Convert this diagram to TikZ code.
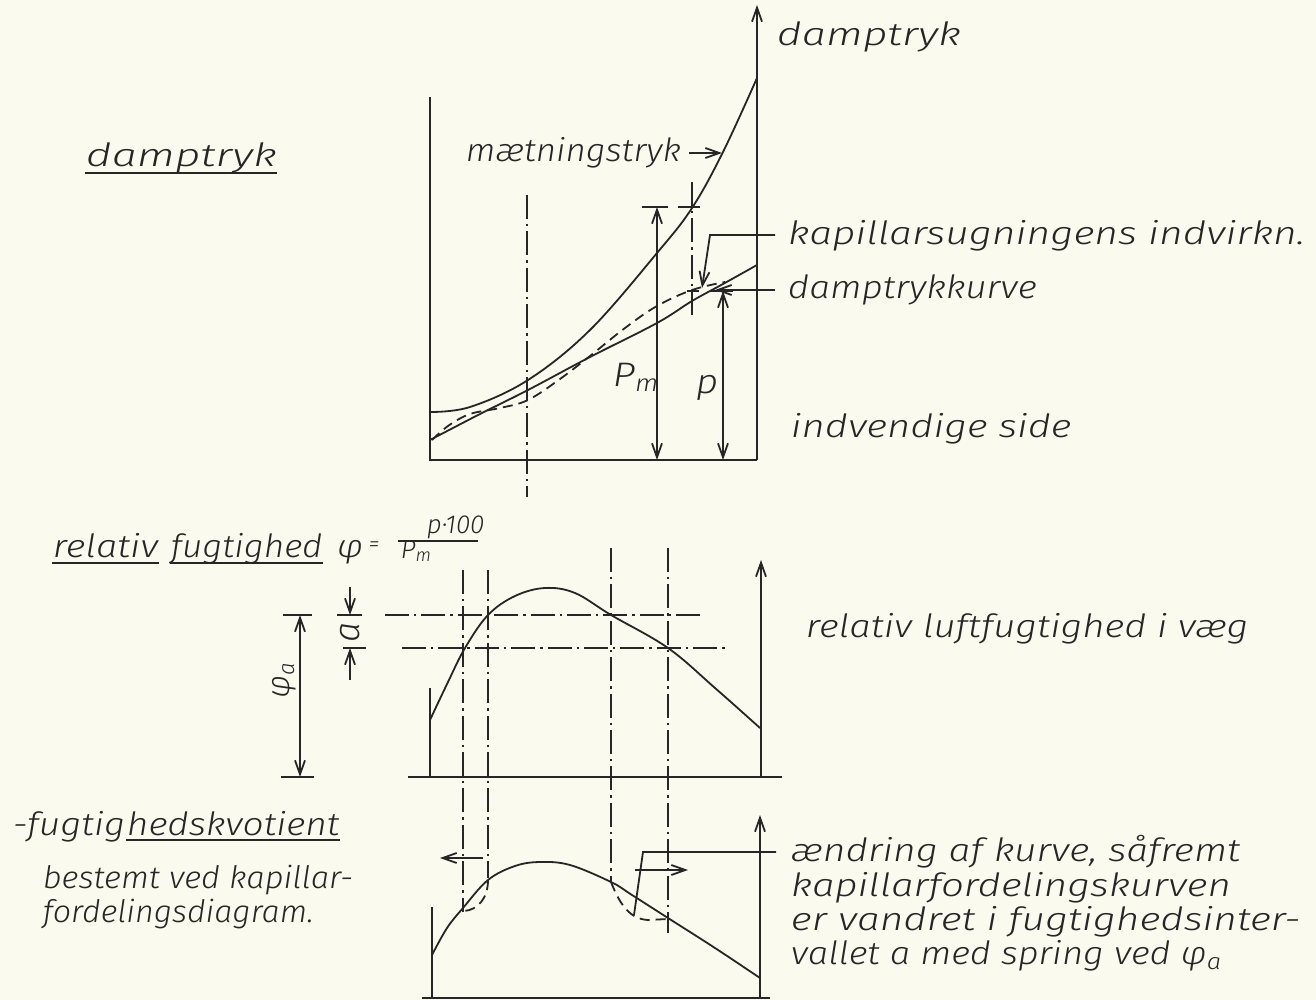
\documentclass[tikz,border=0pt]{standalone}
\usepackage{fontspec}
\IfFontExistsTF{Fira Sans Light Italic}
  {\setmainfont{Fira Sans Light Italic}}
  {\setmainfont{Liberation Sans Italic}}
\usetikzlibrary{arrows.meta}
\definecolor{paper}{RGB}{251,250,239}
\definecolor{ink}{RGB}{38,38,38}
\newcommand\hs[2]{\scalebox{#1}[1]{#2}}
\tikzset{
  txt/.style={font=\fontsize{#1}{#1}\selectfont, inner sep=0pt, anchor=base west},
  txt/.default=16,
  dd/.style={dash pattern=on 12pt off 2.5pt on 1.2pt off 2.5pt},
  dsh/.style={dash pattern=on 5pt off 3pt},
  arr/.style={-{Straight Barb[length=7pt,width=5pt]}},
  darr/.style={{Straight Barb[length=7pt,width=5pt]}-{Straight Barb[length=7pt,width=5pt]}},
  curve/.style={smooth, tension=0.6}
}
\begin{document}
\begin{tikzpicture}[x=0.5pt,y=-0.5pt,line width=0.9pt,color=ink]
\fill[paper] (0,0) rectangle (1316,1000);
\useasboundingbox (0,0) rectangle (1316,1000);

% ---------------- top diagram ----------------
\coordinate (TL) at (430,97);
\coordinate (BL) at (430,460);
\coordinate (BR) at (757,460);
\coordinate (AT) at (757,5);
\draw (TL) -- (BL) -- (BR);
\draw[arr] (BR) -- (AT);
\node[txt] (dt1) at (776,46) {\hs{1.35}{damptryk}};

\coordinate (c1a) at (527,195); \coordinate (c1b) at (527,497);
\draw[dd] (c1a) -- (c1b);

\draw plot[curve] coordinates {(430,412) (470,407) (528,380) (590,330) (657,253) (692,208) (723,152) (757,78)};
\draw plot[curve] coordinates {(430,440) (480,414) (528,390) (590,357) (657,323) (692,301) (723,284) (757,265)};
\draw[dsh] plot[curve] coordinates {(432,440) (448,426) (470,414) (500,408) (528,400) (560,379) (590,356) (625,328) (657,306) (692,290) (725,282)};

\coordinate (pmT) at (657,207); \coordinate (pmB) at (657,460);
\draw[darr] (pmT) -- (pmB);
\draw (642,207) -- (668,207) (678,207) -- (700,207);
\coordinate (pT) at (723,291); \coordinate (pB) at (723,460);
\draw[darr] (pT) -- (pB);
\draw (687,291) -- (699,291) (710,291) -- (733,291);
\coordinate (c2a) at (692,182); \coordinate (c2b) at (692,317);
\draw[dd] (c2a) -- (c2b);
\node[txt=17] (pm) at (612,386) {\hs{1.15}{P\textsubscript{m}}};
\node[txt=17] (p) at (695,393) {\hs{1.15}{p}};

\node[txt] (mt) at (465,162) {\hs{1.09}{mætningstryk}};
\coordinate (m0) at (689,153);
\coordinate (mtp) at (722,153);
\draw[arr] (m0) -- (mtp);

\node[txt] (kap) at (787,245) {\hs{1.275}{kapillarsugningens indvirkn.}};
\coordinate (k0) at (775,235); \coordinate (k1) at (710,235); \coordinate (k2) at (702,288);
\draw[arr] (k0) -- (k1) -- (k2);
\node[txt] (dk) at (787,299) {\hs{1.16}{damptrykkurve}};
\coordinate (d0) at (775,290); \coordinate (d1) at (715,290);
\draw[arr] (d0) -- (d1);
\node[txt] (ind) at (790,437) {\hs{1.25}{indvendige side}};

\node[txt] (dt2) at (85,167) {\hs{1.4}{damptryk}};
\draw ([yshift=-3pt]dt2.base west) -- ([yshift=-3pt]dt2.base east);

% ---------------- middle ----------------
\node[txt] (rel) at (52,557) {\hs{1.19}{relativ}};
\node[txt] (fug) at (170,557) {\hs{1.1}{fugtighed}};
\draw ([yshift=-3pt]rel.base west) -- ([yshift=-3pt]rel.base east);
\draw ([yshift=-3pt]fug.base west) -- ([yshift=-3pt]fug.base east);
\node[txt] (phi) at (336,557) {\hs{1.15}{φ}\,{\fontsize{11}{11}\selectfont\raisebox{3pt}{=}}};
\node[txt=13] (num) at (426,533) {p·100};
\node[txt=13] (den) at (400,558) {P\textsubscript{m}};
\coordinate (fb0) at (398,541); \coordinate (fb1) at (478,541);
\draw (fb0) -- (fb1);

\draw (408,777) -- (782,777);
\draw (430,688) -- (430,777);
\draw[arr] (761,777) -- (761,560);
\draw plot[curve] coordinates {(430,720) (448,682) (465,648) (488,615) (515,596) (545,588) (575,593) (611,615) (668,648) (715,688) (760,728)};

\draw[dd] (385,615) -- (705,615);
\draw[dd] (402,648) -- (728,648);
\draw[dd] (463,570) -- (463,912);
\draw[dd] (488,570) -- (488,878);
\draw[dd] (611,548) -- (611,882);
\draw[dd] (668,548) -- (668,933);

\draw[arr] (350,587) -- (350,615);
\draw[arr] (350,680) -- (350,648);
\draw (337,615) -- (362,615);
\draw (343,648) -- (366,648);
\node[rotate=90, inner sep=0pt, font=\fontsize{18}{18}\selectfont] (alab) at (350,632) {a};

\draw[darr] (300,615) -- (300,777);
\draw (283,615) -- (312,615);
\draw (281,777) -- (314,777);
\node[rotate=90, inner sep=0pt, font=\fontsize{16}{16}\selectfont] (phia) at (284,680) {φ\textsubscript{a}};

\node[txt] (rlv) at (805,637) {\hs{1.2}{relativ luftfugtighed i væg}};

% ---------------- bottom ----------------
\node[txt] (fk1) at (12,835) {\hs{1.16}{-fugtig}};
\node[txt] (fk2) at (fk1.base east) {\hs{1.16}{hedskvotient}};
\draw ([yshift=-2.5pt]fk2.base west) -- ([yshift=-2.5pt]fk2.base east);
\node[txt=15.5] (b1) at (42,888) {\hs{1.06}{bestemt ved kapillar-}};
\node[txt=15.5] (b2) at (42,922) {\hs{1.04}{fordelingsdiagram.}};

\draw (422,998) -- (770,998);
\draw (432,907) -- (432,998);
\draw[arr] (760,998) -- (760,815);
\draw plot[curve] coordinates {(432,955) (447,928) (463,908) (488,880) (515,866) (540,862) (570,865) (611,882) (632,895) (668,918) (715,948) (760,978)};
\draw[dsh] (488,880) .. controls (488,898) and (478,910) .. (464,911);
\draw[dsh] (611,882) .. controls (620,905) and (630,919) .. (648,920) -- (668,919);
\draw[arr] (483,858) -- (440,858);
\draw[arr] (635,870) -- (688,870);

\node[txt] (ae1) at (790,861) {\hs{1.22}{ændring af kurve, såfremt}};
\node[txt] (ae2) at (790,896) {\hs{1.26}{kapillarfordelingskurven}};
\node[txt] (ae3) at (790,930) {\hs{1.27}{er vandret i fugtighedsinter-}};
\node[txt] (ae4) at (790,964) {\hs{1.14}{vallet a med spring ved φ\textsubscript{a}}};
\coordinate (l0) at (776,852); \coordinate (l1) at (643,852); \coordinate (l2) at (634,915);
\draw (l0) -- (l1) -- (l2);
\end{tikzpicture}
\end{document}
